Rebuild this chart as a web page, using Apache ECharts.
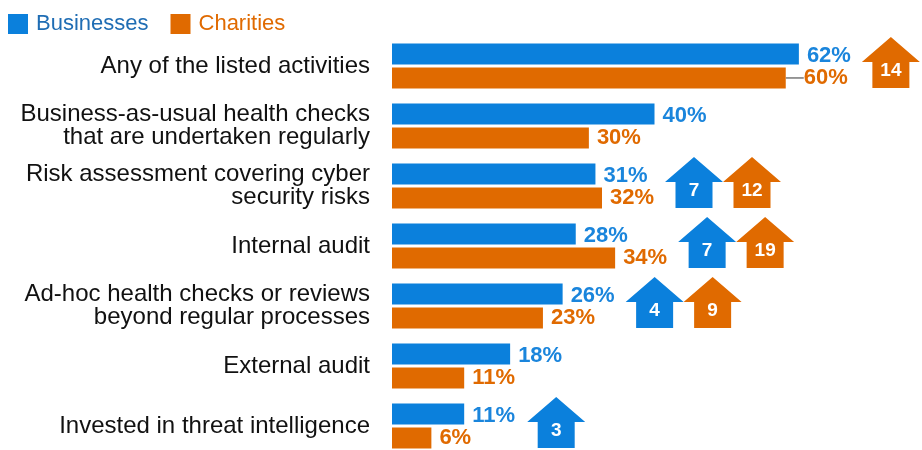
<!DOCTYPE html>
<html>
<head>
<meta charset="utf-8">
<script src="https://cdn.jsdelivr.net/npm/echarts@6/dist/echarts.min.js"></script>
<style>
  html, body { margin: 0; padding: 0; background: #fff; overflow: hidden; }
  #securityChart { width: 922px; height: 456px; }
</style>
</head>
<body>
<div id="securityChart"></div>
<script>
// data
const activities = [
  'Any of the listed activities',
  'Business-as-usual health checks\nthat are undertaken regularly',
  'Risk assessment covering cyber\nsecurity risks',
  'Internal audit',
  'Ad-hoc health checks or reviews\nbeyond regular processes',
  'External audit',
  'Invested in threat intelligence'
]
const businesses = [62, 40, 31, 28, 26, 18, 11]
const charities = [60, 30, 32, 34, 23, 11, 6]
// increase since last year (percentage points), null = no arrow
const businessRise = [null, null, 7, 7, 4, null, 3]
const charityRise = [14, null, 12, 19, 9, null, null]

const BLUE = '#0b80dc'
const ORANGE = '#e06a00'
const FONT = '"Liberation Sans", Arial, sans-serif'

// arrows: [rowMax, rowIndex, change, colorIdx, slot]
let arrowData = []
for (let i = 0; i < activities.length; i++) {
  let rowMax = Math.max(businesses[i], charities[i])
  let slot = 0
  if (businessRise[i] != null) {
    arrowData.push([rowMax, i, businessRise[i], 0, slot])
    slot++
  }
  if (charityRise[i] != null) {
    arrowData.push([rowMax, i, charityRise[i], 1, slot])
    slot++
  }
}

// only the first charity label is pushed aside with a small leader
let charityData = charities.map((v, i) => i === 0
  ? { value: v, labelLine: { show: true, length2: 0, lineStyle: { color: '#333', width: 1 } } }
  : v)

function renderArrow(params, api) {
  let p = api.coord([api.value(0), api.value(1)])
  let w = 58, shaft = 37
  let left = p[0] + 63 + api.value(4) * w
  let cy = p[1]
  let top = cy - 29, neck = cy - 4, bottom = cy + 22
  let sl = left + (w - shaft) / 2, sr = sl + shaft
  let color = api.value(3) === 0 ? BLUE : ORANGE
  return {
    type: 'group',
    children: [
      {
        type: 'polygon',
        shape: {
          points: [[left + w / 2, top], [left + w, neck], [sr, neck], [sr, bottom],
                   [sl, bottom], [sl, neck], [left, neck]]
        },
        style: { fill: color }
      },
      {
        type: 'text',
        style: {
          text: String(api.value(2)),
          x: left + w / 2,
          y: cy + 5,
          align: 'center',
          verticalAlign: 'middle',
          fill: '#fff',
          font: 'bold 19px ' + FONT
        }
      }
    ]
  }
}

let option = {
  animation: false,
  textStyle: { fontFamily: FONT },
  legend: {
    left: 8,
    top: 13,
    padding: 0,
    itemWidth: 20,
    itemHeight: 20,
    itemGap: 22,
    icon: 'rect',
    textStyle: { fontSize: 22, fontFamily: FONT, padding: [0, 0, 0, 3] },
    data: [
      { name: 'Businesses', textStyle: { color: '#1f6db4' } },
      { name: 'Charities', textStyle: { color: ORANGE } }
    ]
  },
  grid: {
    left: 392,
    right: 5,
    top: 36,
    bottom: 0,
    outerBoundsMode: 'none'
  },
  xAxis: {
    type: 'value',
    min: 0,
    max: 80,
    show: false
  },
  yAxis: {
    type: 'category',
    inverse: true,
    data: activities,
    axisLine: { show: false },
    axisTick: { show: false },
    axisLabel: {
      margin: 22,
      fontSize: 24,
      lineHeight: 23,
      color: '#111',
      fontFamily: FONT
    }
  },
  series: [
    {
      name: 'Businesses',
      type: 'bar',
      data: businesses,
      barWidth: 21,
      barGap: '14%',
      itemStyle: { color: BLUE },
      label: {
        show: true,
        position: 'right',
        distance: 8,
        offset: [0, 2],
        formatter: '{c}%',
        color: '#1a85dc',
        fontSize: 22,
        fontWeight: 'bold',
        fontFamily: FONT
      }
    },
    {
      name: 'Charities',
      type: 'bar',
      data: charityData,
      barWidth: 21,
      itemStyle: { color: ORANGE },
      label: {
        show: true,
        position: 'right',
        distance: 8,
        offset: [0, -1],
        formatter: '{c}%',
        color: ORANGE,
        fontSize: 22,
        fontWeight: 'bold',
        fontFamily: FONT
      },
      labelLayout: function (params) {
        if (params.dataIndex === 0) return { dx: 10 }
        return {}
      }
    },
    {
      name: 'change',
      type: 'custom',
      data: arrowData,
      encode: { x: 0, y: 1 },
      clip: false,
      silent: true,
      renderItem: renderArrow
    }
  ]
}

let myChart = echarts.init(document.getElementById('securityChart'))
myChart.setOption(option)
</script>
</body>
</html>
